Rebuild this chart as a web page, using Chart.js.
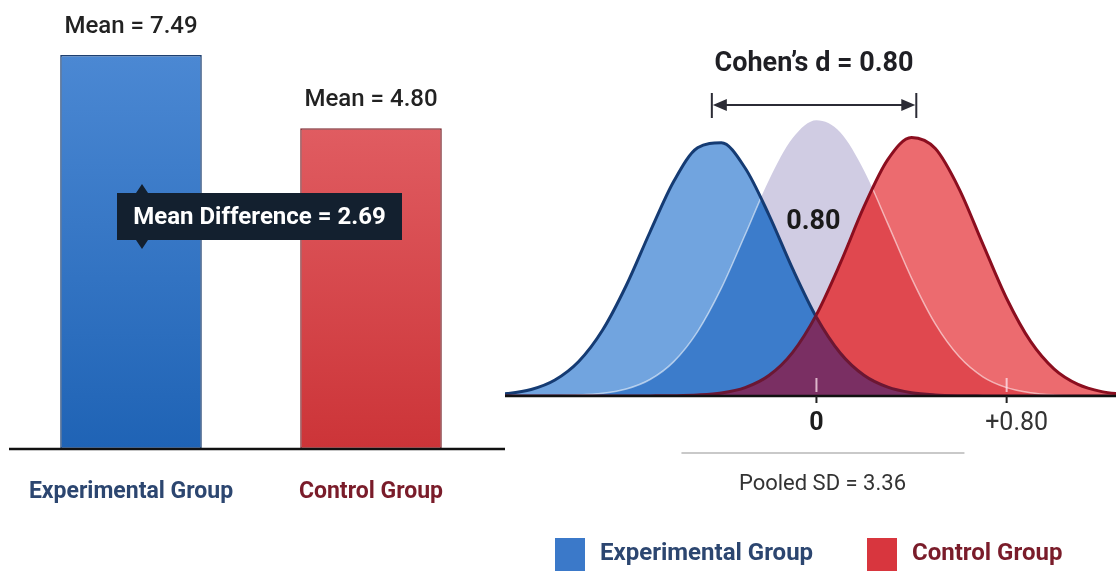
<!DOCTYPE html>
<html>
<head>
<meta charset="utf-8">
<title>Mean difference and Cohen's d</title>
<script src="https://cdn.jsdelivr.net/npm/chart.js@4.4.1/dist/chart.umd.min.js"></script>
<style>
  html, body { margin: 0; padding: 0; background: #fff; }
  #wrap { position: relative; width: 1116px; height: 577px; overflow: hidden; }
  #chart-means { position: absolute; left: 0; top: 0; }
  #chart-effect { position: absolute; left: 505px; top: 0; }
</style>
</head>
<body>
<div id="wrap">
  <canvas id="chart-means" width="505" height="577"></canvas>
  <canvas id="chart-effect" width="611" height="577"></canvas>
</div>
<script>
const FONT = "Roboto, 'Liberation Sans', sans-serif";

// Group means
const groups = ['Experimental Group', 'Control Group'];
const groupMeans = [7.49, 4.80];
const axisFloor = -7;

// Effect size curves, x in pooled SD units
const effectX = [-1.4, -1.3, -1.2, -1.1, -1.0, -0.9, -0.8, -0.7, -0.6, -0.5, -0.4, -0.3, -0.2, -0.1,
                 0, 0.1, 0.2, 0.3, 0.4, 0.5, 0.6, 0.7, 0.8, 0.9, 1.0, 1.1, 1.2, 1.3];
const experimentalCurve = [0.008, 0.024, 0.065, 0.160, 0.345, 0.657, 1.105, 1.640, 2.147, 2.482, 2.532, 2.280, 1.812, 1.271,
                           0.787, 0.430, 0.207, 0.088, 0.033, 0.011, 0.003, 0.001, 0, 0, 0, 0, 0, 0];
const controlCurve = [0, 0, 0, 0, 0, 0, 0, 0.001, 0.003, 0.010, 0.030, 0.084, 0.205, 0.437,
                      0.814, 1.326, 1.893, 2.364, 2.585, 2.474, 2.072, 1.519, 0.975, 0.548, 0.269, 0.116, 0.044, 0.014];
const pooledCurve = [0, 0, 0.001, 0.003, 0.009, 0.027, 0.070, 0.165, 0.344, 0.644, 1.078, 1.612, 2.157, 2.579,
                     2.758, 2.638, 2.255, 1.724, 1.179, 0.721, 0.394, 0.192, 0.084, 0.033, 0.011, 0.003, 0.001, 0];
const effectTicks = [0, 0.8];
const effectTickLabels = ['0', '+0.80'];
const cohensD = 0.80;
const pooledSD = 3.36;
const cohenSpan = [-0.44, 0.42];

const legendItems = [
  { text: 'Experimental Group', box: '#3b79c9', color: '#2c4670' },
  { text: 'Control Group', box: '#d8363e', color: '#7a1c2a' }
];

// ---------- left: bar chart of means ----------
const barColors = [['#4b88d3', '#1f63b5'], ['#e05c61', '#cc3438']];

function barFill(ctx) {
  const chart = ctx.chart;
  const area = chart.chartArea;
  const pair = barColors[ctx.dataIndex];
  if (!area) return pair[0];
  const top = chart.scales.y.getPixelForValue(groupMeans[ctx.dataIndex]);
  const g = chart.ctx.createLinearGradient(0, top, 0, area.bottom);
  g.addColorStop(0, pair[0]);
  g.addColorStop(1, pair[1]);
  return g;
}

const meansOverlay = {
  id: 'meansOverlay',
  afterDatasetsDraw(chart) {
    const ctx = chart.ctx;
    const area = chart.chartArea;
    const bars = chart.getDatasetMeta(0).data;
    ctx.save();

    // baseline
    ctx.strokeStyle = '#111';
    ctx.lineWidth = 2.5;
    ctx.beginPath();
    ctx.moveTo(9, area.bottom);
    ctx.lineTo(chart.width, area.bottom);
    ctx.stroke();

    ctx.textAlign = 'center';
    ctx.textBaseline = 'middle';

    // mean labels above the bars
    ctx.fillStyle = '#222';
    ctx.font = '500 24px ' + FONT;
    bars.forEach((bar, i) => {
      ctx.fillText('Mean = ' + groupMeans[i].toFixed(2), bar.x, bar.y - 28);
    });

    // group names under the axis
    ctx.font = 'bold 23px ' + FONT;
    bars.forEach((bar, i) => {
      ctx.fillStyle = legendItems[i].color;
      ctx.fillText(groups[i], bar.x, area.bottom + 43);
    });

    // mean difference tag
    const bx = 117, by = 193, bw = 285, bh = 47;
    ctx.fillStyle = '#13202f';
    ctx.fillRect(bx, by, bw, bh);
    ctx.beginPath();
    ctx.moveTo(142, by - 9); ctx.lineTo(148, by); ctx.lineTo(136, by);
    ctx.moveTo(142, by + bh + 9); ctx.lineTo(148, by + bh); ctx.lineTo(136, by + bh);
    ctx.fill();
    ctx.fillStyle = '#fff';
    ctx.font = 'bold 24px ' + FONT;
    const diff = (groupMeans[0] - groupMeans[1]).toFixed(2);
    ctx.fillText('Mean Difference = ' + diff, bx + bw / 2, by + bh / 2 + 1);

    ctx.restore();
  }
};

new Chart(document.getElementById('chart-means'), {
  type: 'bar',
  data: {
    labels: groups,
    datasets: [{
      data: groupMeans,
      base: axisFloor,
      backgroundColor: barFill,
      borderColor: ['#1d3f70', '#7c2a30'],
      borderWidth: 1.5,
      borderSkipped: false,
      categoryPercentage: 0.59,
      barPercentage: 1
    }]
  },
  options: {
    responsive: false,
    animation: false,
    devicePixelRatio: 1,
    layout: { padding: { left: 11, right: 14, top: 14, bottom: 128 } },
    plugins: { legend: { display: false }, tooltip: { enabled: false } },
    scales: {
      x: { display: false },
      y: { display: false, min: axisFloor, max: 9 }
    }
  },
  plugins: [meansOverlay]
});

// ---------- right: overlapping distributions ----------
const toPoints = ys => effectX.map((x, i) => ({ x, y: ys[i] }));

// one continuous curve through the dataset points, using the control points Chart.js computed
function tracePath(ctx, meta) {
  const pts = meta.data;
  ctx.moveTo(pts[0].x, pts[0].y);
  for (let i = 1; i < pts.length; i++) {
    const a = pts[i - 1], b = pts[i];
    ctx.bezierCurveTo(a.cp2x, a.cp2y, b.cp1x, b.cp1y, b.x, b.y);
  }
}

function areaPath(ctx, meta, baseY, fresh = true) {
  const pts = meta.data;
  if (fresh) ctx.beginPath();
  tracePath(ctx, meta);
  ctx.lineTo(pts[pts.length - 1].x, baseY);
  ctx.lineTo(pts[0].x, baseY);
  ctx.closePath();
}

const curveFills = {
  id: 'curveFills',
  beforeDatasetsDraw(chart) {
    const ctx = chart.ctx;
    const area = chart.chartArea;
    const baseY = chart.scales.y.getPixelForValue(0);
    const [exp, ctl, pool] = [0, 1, 2].map(i => chart.getDatasetMeta(i));
    [exp, ctl, pool].forEach(m => m.dataset.updateControlPoints(area, 'x'));

    ctx.save();
    areaPath(ctx, pool, baseY); ctx.fillStyle = '#d0cce3'; ctx.fill();
    areaPath(ctx, exp, baseY); ctx.fillStyle = '#71a4df'; ctx.fill();
    areaPath(ctx, ctl, baseY); ctx.fillStyle = '#ec6b6f'; ctx.fill();

    // stronger tone where a group sits under the pooled curve
    ctx.save();
    areaPath(ctx, pool, baseY); ctx.clip();
    areaPath(ctx, exp, baseY); ctx.fillStyle = '#3c7ccb'; ctx.fill();
    areaPath(ctx, ctl, baseY); ctx.fillStyle = '#e0484f'; ctx.fill();
    ctx.restore();

    // overlap of both groups
    ctx.save();
    areaPath(ctx, exp, baseY); ctx.clip();
    areaPath(ctx, ctl, baseY); ctx.fillStyle = '#7a2f63'; ctx.fill();
    ctx.restore();

    // faint outline of the pooled curve inside the coloured areas
    ctx.save();
    areaPath(ctx, exp, baseY);
    areaPath(ctx, ctl, baseY, false);
    ctx.clip();
    ctx.beginPath();
    tracePath(ctx, pool);
    ctx.strokeStyle = 'rgba(255,255,255,0.55)';
    ctx.lineWidth = 1.5;
    ctx.stroke();
    ctx.restore();

    ctx.restore();
  }
};

const effectOverlay = {
  id: 'effectOverlay',
  afterDatasetsDraw(chart) {
    const ctx = chart.ctx;
    const area = chart.chartArea;
    const xs = chart.scales.x;
    const baseY = chart.scales.y.getPixelForValue(0);
    ctx.save();

    // axis line
    ctx.strokeStyle = '#111';
    ctx.lineWidth = 2.5;
    ctx.beginPath();
    ctx.moveTo(area.left, baseY);
    ctx.lineTo(area.right, baseY);
    ctx.stroke();

    // ticks and tick labels
    ctx.textAlign = 'center';
    ctx.textBaseline = 'middle';
    effectTicks.forEach((t, i) => {
      const px = xs.getPixelForValue(t);
      ctx.lineWidth = 2;
      ctx.strokeStyle = 'rgba(255,228,238,0.75)';
      ctx.beginPath(); ctx.moveTo(px, baseY - 18); ctx.lineTo(px, baseY - 4); ctx.stroke();
      ctx.strokeStyle = '#222';
      ctx.beginPath(); ctx.moveTo(px, baseY); ctx.lineTo(px, baseY + 7); ctx.stroke();
      ctx.fillStyle = i === 0 ? '#1d1d1d' : '#333';
      ctx.font = (i === 0 ? 'bold 25px ' : '25px ') + FONT;
      ctx.fillText(effectTickLabels[i], px + (i === 0 ? 0 : 10), baseY + 28);
    });

    const mid = xs.getPixelForValue(0);

    // pooled SD bracket and label
    ctx.strokeStyle = '#c9c9c9';
    ctx.lineWidth = 2;
    ctx.beginPath(); ctx.moveTo(mid - 135, 453); ctx.lineTo(mid + 148, 453); ctx.stroke();
    ctx.fillStyle = '#333';
    ctx.font = '22px ' + FONT;
    ctx.fillText('Pooled SD = ' + pooledSD.toFixed(2), mid + 6, 484);

    // Cohen's d span between the group centres
    const x0 = xs.getPixelForValue(cohenSpan[0]);
    const x1 = xs.getPixelForValue(cohenSpan[1]);
    const ay = 105;
    ctx.strokeStyle = '#2b2b35';
    ctx.fillStyle = '#2b2b35';
    ctx.lineWidth = 2;
    ctx.beginPath();
    ctx.moveTo(x0, ay - 12); ctx.lineTo(x0, ay + 13);
    ctx.moveTo(x1, ay - 12); ctx.lineTo(x1, ay + 13);
    ctx.moveTo(x0 + 12, ay); ctx.lineTo(x1 - 12, ay);
    ctx.stroke();
    ctx.beginPath();
    ctx.moveTo(x0 + 1, ay); ctx.lineTo(x0 + 15, ay - 6); ctx.lineTo(x0 + 15, ay + 6); ctx.closePath();
    ctx.moveTo(x1 - 1, ay); ctx.lineTo(x1 - 15, ay - 6); ctx.lineTo(x1 - 15, ay + 6); ctx.closePath();
    ctx.fill();

    ctx.fillStyle = '#1f1f24';
    ctx.font = 'bold 27px ' + FONT;
    ctx.fillText("Cohen\u2019s d = " + cohensD.toFixed(2), (x0 + x1) / 2, 64);
    ctx.fillStyle = '#1a1a1a';
    ctx.fillText(cohensD.toFixed(2), mid - 3, 222);

    // legend
    ctx.textAlign = 'left';
    ctx.font = 'bold 24px ' + FONT;
    const legendX = [50, 362];
    legendItems.forEach((item, i) => {
      const lx = legendX[i];
      ctx.fillStyle = item.box;
      ctx.fillRect(lx, 538, 30, 33);
      ctx.fillStyle = item.color;
      ctx.fillText(item.text, lx + 45, 554);
    });

    ctx.restore();
  }
};

const maroon = '#6b1733';

new Chart(document.getElementById('chart-effect'), {
  type: 'line',
  data: {
    datasets: [
      {
        label: groups[0],
        data: toPoints(experimentalCurve),
        borderColor: '#153b73',
        borderWidth: 3,
        segment: { borderColor: c => (c.p0.parsed.x >= 0 ? maroon : undefined) },
        order: 1
      },
      {
        label: groups[1],
        data: toPoints(controlCurve),
        borderColor: '#8b0e1f',
        borderWidth: 3,
        segment: { borderColor: c => (c.p1.parsed.x <= 0 ? maroon : undefined) },
        order: 0
      },
      {
        label: 'Pooled',
        data: toPoints(pooledCurve),
        borderColor: 'rgba(0,0,0,0)',
        borderWidth: 0,
        order: 2
      }
    ]
  },
  options: {
    responsive: false,
    animation: false,
    devicePixelRatio: 1,
    layout: { padding: { left: 0, right: 0, top: 96, bottom: 181 } },
    elements: {
      point: { radius: 0 },
      line: { cubicInterpolationMode: 'monotone', fill: false }
    },
    plugins: { legend: { display: false }, tooltip: { enabled: false } },
    scales: {
      x: { type: 'linear', display: false, min: -1.31, max: 1.26 },
      y: { display: false, min: 0, max: 3 }
    }
  },
  plugins: [curveFills, effectOverlay]
});
</script>
</body>
</html>
